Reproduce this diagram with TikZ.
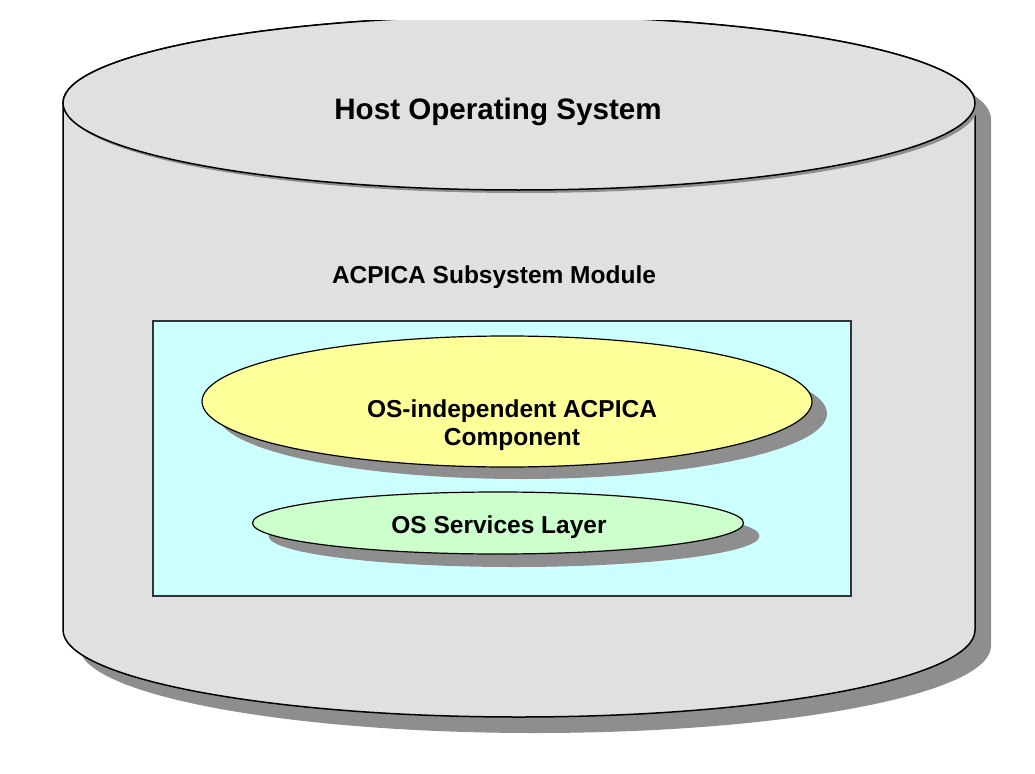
\documentclass[tikz,border=0pt]{standalone}
\usepackage{fontspec}
\setmainfont{Liberation Sans}
\usetikzlibrary{shapes.geometric,shadows}
\definecolor{hostgray}{HTML}{E0E0E0}
\definecolor{shadegray}{HTML}{8E8E8E}
\definecolor{boxcyan}{HTML}{CCFFFF}
\definecolor{coreyellow}{HTML}{FFFF99}
\definecolor{oslgreen}{HTML}{CCFFCC}

\begin{document}
\begin{tikzpicture}
    [x=1pt,y=-1pt,
     layer/.style={ellipse,draw=black,line width=1.2pt,inner sep=0pt},
     label/.style={anchor=base,font=\bfseries\fontsize{24.5}{28}\selectfont,align=center},
     shade/.style 2 args={drop shadow={shadow xshift=#1pt,shadow yshift=-#2pt,fill=shadegray,opacity=1}}]
    \useasboundingbox (0,0) rectangle (1035,773);
    \begin{scope}
      \clip (0,21) rectangle (1035,773);
      \path [draw=black,line width=1.5pt,fill=hostgray,shade={16}{16}]
        (63,103) -- (63,630) arc (180:0:456 and 87) -- (975,103) arc (0:-180:456 and 87) -- cycle;
      \path [draw=black,line width=1.5pt,fill=hostgray,shade={3}{3}]
        (519,103) ellipse [x radius=456,y radius=87];
    \end{scope}
    \node (host) at (498,120) [label,font=\bfseries\fontsize{29.6}{34}\selectfont] {Host Operating System};
    \node (module) at (494,283) [label] {ACPICA Subsystem Module};
    \node (box) at (502,458.5) [draw=black!80,line width=1.5pt,fill=boxcyan,
      minimum width=698pt,minimum height=275pt] {};
    \node (core) at (507,401.5) [layer,fill=coreyellow,shade={15}{12},
      minimum width=610pt,minimum height=131pt] {};
    \node (osl) at (498,523) [layer,fill=oslgreen,shade={16}{13},
      minimum width=491pt,minimum height=62pt] {};
    \node (corelabel) at (512,445) [label] {OS-independent ACPICA\\Component};
    \node (osllabel) at (499,533) [label] {OS Services Layer};
\end{tikzpicture}
\end{document}
